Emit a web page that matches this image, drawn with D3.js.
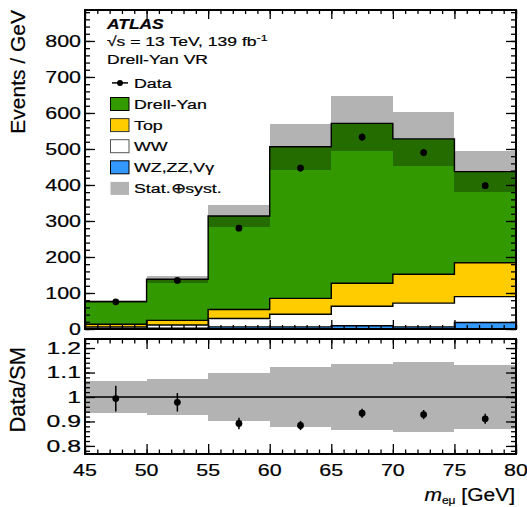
<!DOCTYPE html>
<html>
<head>
<meta charset="utf-8">
<script src="https://cdn.jsdelivr.net/npm/d3@7"></script>
<style>
  body { margin: 0; background: #fff; }
  svg text { font-family: "Liberation Sans", Arial, Helvetica, sans-serif; fill: #000; stroke: #000; stroke-width: 0.2px; }
</style>
</head>
<body>
<svg width="527" height="507"></svg>
<script>
// DATA (events / GeV per 5 GeV bin)
const binEdges = [45, 50, 55, 60, 65, 70, 75, 80];
const wzZzVgamma = [2, 2, 6, 6, 9, 6, 18];
const wwValues = [4, 9, 23, 35, 54, 66, 72];
const topValues = [7, 13, 25, 44, 64, 80, 94];
const drellYanValues = [63, 114, 260, 421, 444, 376, 253];
const dataValues = [75.5, 135, 280, 447, 533, 490, 398];
const dataErrors = [4, 5.2, 7.5, 9.5, 10.3, 9.9, 8.9];
const systUnc = [5, 10, 31, 63, 77, 75, 57];
const yTicksMain = [0, 100, 200, 300, 400, 500, 600, 700, 800];
const yTicksRatio = [0.8, 0.9, 1, 1.1, 1.2];
const yTickLabelsRatio = ["0.8", "0.9", "1", "1.1", "1.2"];
const xTicks = [45, 50, 55, 60, 65, 70, 75, 80];

const svg = d3.select("svg");
const SX = 1.3; // horizontal stretch of the original's lettering

// LAYOUT
const left = 85, right = 516;
const mainTop = 10, mainBottom = 329;
const ratioTop = 339, ratioBottom = 454;

const x = d3.scaleLinear().domain([45, 80]).range([left, right]);
const y = d3.scaleLinear().domain([0, 886]).range([mainBottom, mainTop]);
const yr = d3.scaleLinear().domain([0.767, 1.237]).range([ratioBottom, ratioTop]);

// TABLE OF BINS
const bins = d3.range(binEdges.length - 1).map(i => ({
  lo: binEdges[i], hi: binEdges[i + 1],
  wz: wzZzVgamma[i], ww: wwValues[i], top: topValues[i], dy: drellYanValues[i],
  data: dataValues[i], err: dataErrors[i], unc: systUnc[i]
}));
bins.forEach(b => { b.total = b.wz + b.ww + b.top + b.dy; });

const keys = ["wz", "ww", "top", "dy"];
const colors = { wz: "#3399ff", ww: "#ffffff", top: "#ffcc00", dy: "#339900" };
const stacked = d3.stack().keys(keys)(bins);

// helper: text drawn with a horizontal stretch around its anchor
function label(g, px, py, str, size, anchor, opts = {}) {
  const t = g.append("text")
    .attr("transform", `translate(${px},${py}) scale(${opts.sx || SX},1)`)
    .attr("text-anchor", anchor || "start")
    .style("font-size", size + "px");
  if (opts.weight) t.style("font-weight", opts.weight);
  if (opts.italic) t.style("font-style", "italic");
  t.text(str);
  return t;
}

// ---------- MAIN PANEL ----------
const main = svg.append("g");
svg.append("clipPath").attr("id", "clipMain")
  .append("rect").attr("x", left).attr("y", mainTop)
  .attr("width", right - left).attr("height", mainBottom - mainTop);

const plot = main.append("g").attr("clip-path", "url(#clipMain)");

// stacked fills
stacked.forEach(layer => {
  plot.selectAll(null).data(layer).enter().append("rect")
    .attr("x", d => x(d.data.lo))
    .attr("width", d => x(d.data.hi) - x(d.data.lo))
    .attr("y", d => y(d[1]))
    .attr("height", d => y(d[0]) - y(d[1]))
    .attr("fill", colors[layer.key])
    .attr("shape-rendering", "crispEdges");
});

// uncertainty band (multiplied over the stack)
plot.selectAll(".band").data(bins).enter().append("rect")
  .attr("class", "band")
  .attr("x", d => x(d.lo))
  .attr("width", d => x(d.hi) - x(d.lo))
  .attr("y", d => y(d.total + d.unc))
  .attr("height", d => y(d.total - d.unc) - y(d.total + d.unc))
  .attr("fill", "#b3b3b3")
  .style("mix-blend-mode", "multiply")
  .attr("shape-rendering", "crispEdges");

// histogram outlines
const stepLine = d3.line().curve(d3.curveStepAfter).x(p => x(p[0])).y(p => y(p[1]));
stacked.forEach(layer => {
  const pts = [[45, 0]];
  layer.forEach(d => pts.push([d.data.lo, d[1]]));
  pts.push([80, layer[layer.length - 1][1]]);
  pts.push([80, 0]);
  plot.append("path")
    .attr("d", stepLine(pts))
    .attr("fill", "none")
    .attr("stroke", "#000")
    .attr("stroke-width", 1.4);
});

// data points
const dataG = plot.append("g");
dataG.selectAll("line").data(bins).enter().append("line")
  .attr("x1", d => x((d.lo + d.hi) / 2)).attr("x2", d => x((d.lo + d.hi) / 2))
  .attr("y1", d => y(d.data - d.err)).attr("y2", d => y(d.data + d.err))
  .attr("stroke", "#000").attr("stroke-width", 1.5);
dataG.selectAll("circle").data(bins).enter().append("circle")
  .attr("cx", d => x((d.lo + d.hi) / 2))
  .attr("cy", d => y(d.data))
  .attr("r", 3.4)
  .attr("fill", "#000");

// axes of the main panel
function styleAxis(g) {
  g.select(".domain").remove();
  g.selectAll(".tick line").attr("stroke", "#000").attr("stroke-width", 1.3);
}
const yMinorMain = d3.range(0, 886, 20);
main.append("g").attr("transform", `translate(${left},0)`)
  .call(d3.axisLeft(y).tickValues(yMinorMain).tickSize(-5).tickFormat("")).call(styleAxis);
main.append("g").attr("transform", `translate(${left},0)`)
  .call(d3.axisLeft(y).tickValues(yTicksMain).tickSize(-10).tickFormat("")).call(styleAxis);
main.append("g").attr("transform", `translate(${right},0)`)
  .call(d3.axisRight(y).tickValues(yMinorMain).tickSize(-5).tickFormat("")).call(styleAxis);
main.append("g").attr("transform", `translate(${right},0)`)
  .call(d3.axisRight(y).tickValues(yTicksMain).tickSize(-10).tickFormat("")).call(styleAxis);

const xMinor = d3.range(45, 80.5, 1);
[[mainBottom, d3.axisBottom], [mainTop, d3.axisTop]].forEach(([py, ax]) => {
  main.append("g").attr("transform", `translate(0,${py})`)
    .call(ax(x).tickValues(xMinor).tickSize(-4).tickFormat("")).call(styleAxis);
  main.append("g").attr("transform", `translate(0,${py})`)
    .call(ax(x).tickValues(xTicks).tickSize(-9).tickFormat("")).call(styleAxis);
});

yTicksMain.forEach(v => label(main, 81, y(v) + 5.8, String(v), 16.5, "end"));

main.append("rect")
  .attr("x", left).attr("y", mainTop)
  .attr("width", right - left).attr("height", mainBottom - mainTop)
  .attr("fill", "none").attr("stroke", "#000").attr("stroke-width", 2);

main.append("text")
  .attr("transform", `translate(25,10) rotate(-90)`)
  .attr("text-anchor", "end")
  .style("font-size", "21px")
  .text("Events / GeV");

// labels and legend
label(main, 107, 29.3, "ATLAS", 14.5, "start", { weight: "bold", italic: true, sx: 1.2 });
const energy = label(main, 107, 46, "", 13.5, "start");
energy.append("tspan").text("\u221As = 13 TeV, 139 fb");
energy.append("tspan").attr("dy", -5).style("font-size", "9.5px").text("-1");
label(main, 107, 64, "Drell-Yan VR", 13.5, "start");

const legendItems = [
  { name: "Data", kind: "data" },
  { name: "Drell-Yan", fill: colors.dy, stroke: "#000" },
  { name: "Top", fill: colors.top, stroke: "#333" },
  { name: "WW", fill: colors.ww, stroke: "#555" },
  { name: "WZ,ZZ,V\u03B3", fill: colors.wz, stroke: "#000" },
  { name: "Stat.\u2295syst.", fill: "#b3b3b3", stroke: "none" }
];
legendItems.forEach((it, i) => {
  const base = 87.5 + i * 21.1;
  const cy = base - 4.6;
  if (it.kind === "data") {
    main.append("line").attr("x1", 112).attr("x2", 128).attr("y1", cy).attr("y2", cy)
      .attr("stroke", "#000").attr("stroke-width", 1.5);
    main.append("circle").attr("cx", 120).attr("cy", cy).attr("r", 3).attr("fill", "#000");
  } else {
    main.append("rect").attr("x", 110.5).attr("y", cy - 6.5).attr("width", 18.5).attr("height", 13)
      .attr("fill", it.fill).attr("stroke", it.stroke).attr("stroke-width", 1);
  }
  label(main, 134, base, it.name, 13.7, "start");
});

// ---------- RATIO PANEL ----------
const ratio = svg.append("g");
ratio.selectAll(".rband").data(bins).enter().append("rect")
  .attr("x", d => x(d.lo))
  .attr("width", d => x(d.hi) - x(d.lo))
  .attr("y", d => yr(1 + d.unc / d.total))
  .attr("height", d => yr(1 - d.unc / d.total) - yr(1 + d.unc / d.total))
  .attr("fill", "#b3b3b3")
  .attr("shape-rendering", "crispEdges");

ratio.append("line")
  .attr("x1", left).attr("x2", right).attr("y1", yr(1)).attr("y2", yr(1))
  .attr("stroke", "#000").attr("stroke-width", 1.4);

ratio.selectAll(".rerr").data(bins).enter().append("line")
  .attr("x1", d => x((d.lo + d.hi) / 2)).attr("x2", d => x((d.lo + d.hi) / 2))
  .attr("y1", d => yr((d.data - d.err) / d.total)).attr("y2", d => yr((d.data + d.err) / d.total))
  .attr("stroke", "#000").attr("stroke-width", 1.5);
ratio.selectAll(".rpt").data(bins).enter().append("circle")
  .attr("cx", d => x((d.lo + d.hi) / 2))
  .attr("cy", d => yr(d.data / d.total))
  .attr("r", 3.4).attr("fill", "#000");

const rMinor = d3.range(0.78, 1.237, 0.02);
ratio.append("g").attr("transform", `translate(${left},0)`)
  .call(d3.axisLeft(yr).tickValues(rMinor).tickSize(-5).tickFormat("")).call(styleAxis);
ratio.append("g").attr("transform", `translate(${left},0)`)
  .call(d3.axisLeft(yr).tickValues(yTicksRatio).tickSize(-10).tickFormat("")).call(styleAxis);
ratio.append("g").attr("transform", `translate(${right},0)`)
  .call(d3.axisRight(yr).tickValues(rMinor).tickSize(-5).tickFormat("")).call(styleAxis);
ratio.append("g").attr("transform", `translate(${right},0)`)
  .call(d3.axisRight(yr).tickValues(yTicksRatio).tickSize(-10).tickFormat("")).call(styleAxis);
[[ratioBottom, d3.axisBottom], [ratioTop, d3.axisTop]].forEach(([py, ax]) => {
  ratio.append("g").attr("transform", `translate(0,${py})`)
    .call(ax(x).tickValues(xMinor).tickSize(-4.5).tickFormat("")).call(styleAxis);
  ratio.append("g").attr("transform", `translate(0,${py})`)
    .call(ax(x).tickValues(xTicks).tickSize(-10).tickFormat("")).call(styleAxis);
});

yTicksRatio.forEach((v, i) => label(ratio, 81, yr(v) + 5.8, yTickLabelsRatio[i], 16.5, "end", { sx: 1.5 }));
xTicks.forEach(v => label(ratio, x(v), 475.5, String(v), 16.5, "middle"));

ratio.append("rect")
  .attr("x", left).attr("y", ratioTop)
  .attr("width", right - left).attr("height", ratioBottom - ratioTop)
  .attr("fill", "none").attr("stroke", "#000").attr("stroke-width", 2);

ratio.append("text")
  .attr("transform", `translate(25,347) rotate(-90)`)
  .attr("text-anchor", "end")
  .style("font-size", "22px")
  .text("Data/SM");

const xt = label(ratio, 515, 501, "", 17.5, "end", { sx: 1.2 });
xt.append("tspan").style("font-style", "italic").text("m");
xt.append("tspan").attr("dy", 3).style("font-size", "10px").text("e\u03BC");
xt.append("tspan").attr("dy", -3).text(" [GeV]");
</script>
</body>
</html>
